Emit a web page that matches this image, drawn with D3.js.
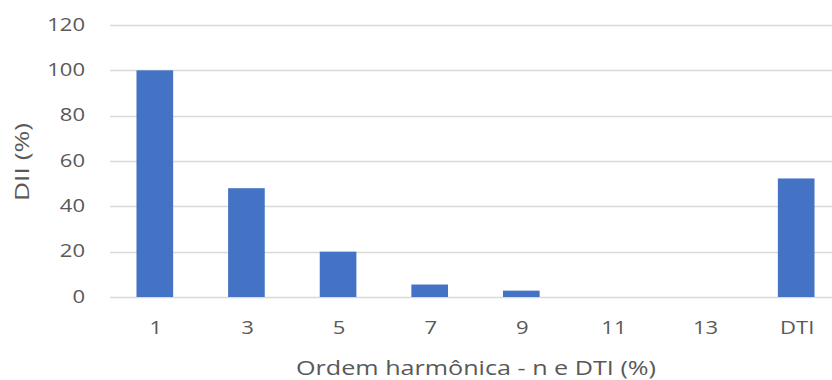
<!DOCTYPE html>
<html>
<head>
<meta charset="utf-8">
<script src="https://cdn.jsdelivr.net/npm/d3@7"></script>
<style>
  html, body { margin: 0; padding: 0; background: #fff; }
  svg { display: block; }
  text { font-family: "Open Sans", "Liberation Sans", sans-serif; fill: #595959; }
</style>
</head>
<body>
<svg id="chart" width="832" height="380"></svg>
<script>
// Harmonic orders and total distortion (DTI), with individual distortion DII (%)
const categories = ["1", "3", "5", "7", "9", "11", "13", "DTI"];
const values = [100, 48, 20, 5.5, 2.8, 0, 0, 52.3];
const yTicks = [0, 20, 40, 60, 80, 100, 120];

const width = 832, height = 380;
const margin = { top: 25, right: -10, bottom: 83, left: 109 };
const tickFont = 19, titleFont = 20, stretch = 1.16;

const svg = d3.select("#chart");

const x = d3.scaleBand()
  .domain(categories)
  .range([margin.left, width - margin.right])
  .paddingInner(0.6)
  .paddingOuter(0.3);

const y = d3.scaleLinear()
  .domain([0, 120])
  .range([height - margin.bottom, margin.top]);

// Horizontal gridlines
svg.append("g")
  .selectAll("line")
  .data(yTicks)
  .join("line")
  .attr("x1", margin.left + 1)
  .attr("x2", width)
  .attr("y1", d => Math.round(y(d)) + 0.5)
  .attr("y2", d => Math.round(y(d)) + 0.5)
  .attr("stroke", "#d9d9d9")
  .attr("stroke-width", 1.3);

// Y-axis tick labels (slightly widened glyphs)
svg.append("g")
  .selectAll("text")
  .data(yTicks)
  .join("text")
  .attr("transform", d => `translate(85,${y(d) - 1}) scale(${stretch},1)`)
  .attr("dy", "0.35em")
  .attr("text-anchor", "end")
  .attr("font-size", tickFont)
  .text(d => d);

// Bars
svg.append("g")
  .selectAll("rect")
  .data(categories.map((c, i) => ({ c, v: values[i] })))
  .join("rect")
  .attr("x", d => x(d.c))
  .attr("width", x.bandwidth())
  .attr("y", d => y(d.v))
  .attr("height", d => y(0) - y(d.v))
  .attr("fill", "#4472c4");

// X-axis tick labels
svg.append("g")
  .selectAll("text")
  .data(categories)
  .join("text")
  .attr("transform", d => `translate(${x(d) + x.bandwidth() / 2 + 1},327) scale(${stretch},1)`)
  .attr("dy", "0.35em")
  .attr("text-anchor", "middle")
  .attr("font-size", tickFont)
  .text(d => d);

// Axis titles
svg.append("text")
  .attr("x", 476)
  .attr("y", 368)
  .attr("dy", "0.35em")
  .attr("text-anchor", "middle")
  .attr("font-size", titleFont)
  .attr("textLength", 360)
  .attr("lengthAdjust", "spacingAndGlyphs")
  .text("Ordem harmônica - n e DTI (%)");

svg.append("text")
  .attr("transform", "translate(22,162) rotate(-90)")
  .attr("dy", "0.35em")
  .attr("text-anchor", "middle")
  .attr("font-size", titleFont)
  .attr("textLength", 78)
  .attr("lengthAdjust", "spacingAndGlyphs")
  .text("DII (%)");
</script>
</body>
</html>
